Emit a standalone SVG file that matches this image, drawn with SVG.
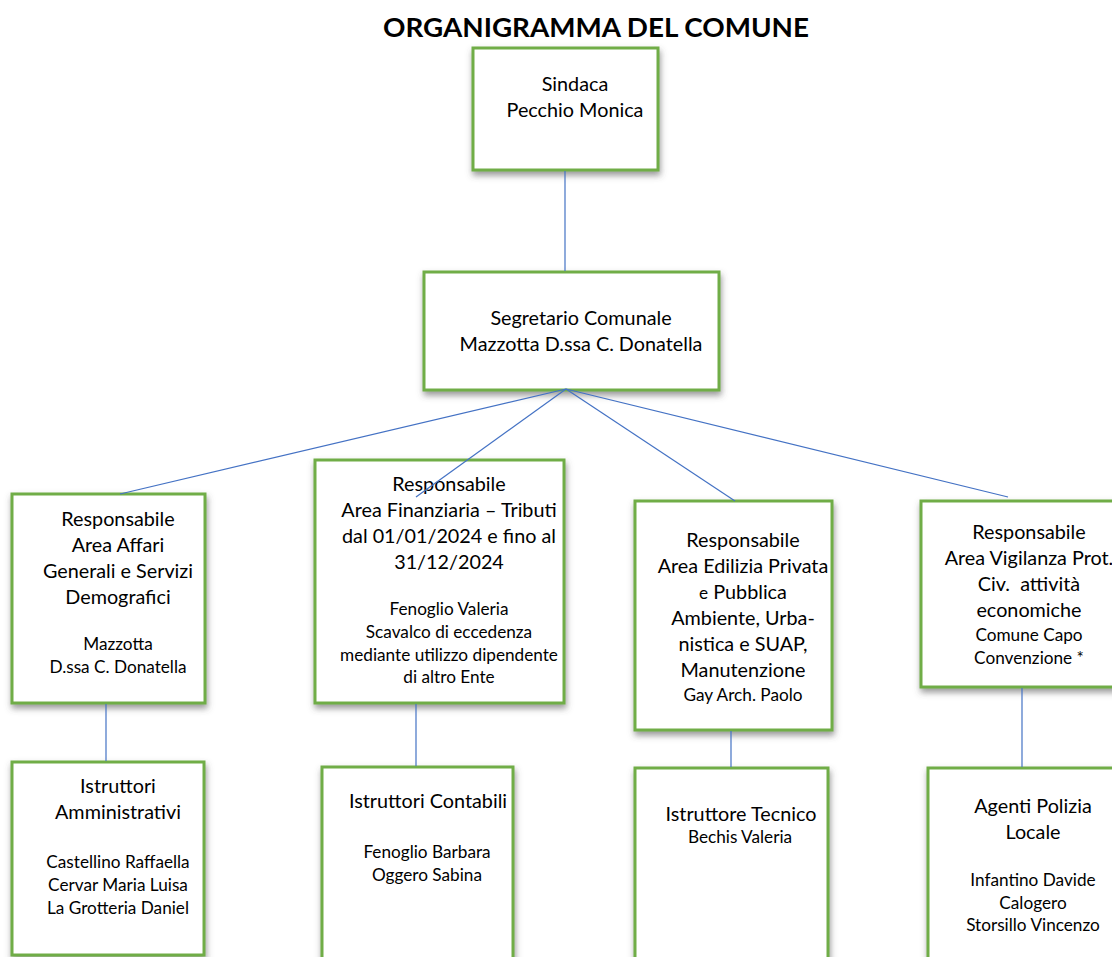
<svg xmlns="http://www.w3.org/2000/svg" width="1112" height="957" viewBox="0 0 1112 957">
<defs>
<filter id="sh" x="-10%" y="-10%" width="125%" height="130%">
<feDropShadow dx="1" dy="4" stdDeviation="3" flood-color="#555" flood-opacity="0.6"/>
</filter>
</defs>
<style>
.box{fill:#fff;stroke:#70AD47;stroke-width:3;filter:url(#sh)}
.t{font-family:Lato,"Liberation Sans",sans-serif;fill:#000;text-anchor:middle}
.b{font-size:19.8px}
.s{font-size:17.2px}
.title{font-family:Lato,"Liberation Sans",sans-serif;font-weight:bold;font-size:27px;text-anchor:middle;fill:#000}
.ln{stroke:#4472C4;stroke-width:1.2;fill:none}
</style>
<rect width="1112" height="957" fill="#fff"/>
<text class="title" x="596" y="37" textLength="426" lengthAdjust="spacingAndGlyphs">ORGANIGRAMMA DEL COMUNE</text>

<g id="sindaca">
<rect class="box" x="473" y="48" width="185" height="122"/>
<text class="t b" x="575" y="91">Sindaca</text>
<text class="t b" x="575" y="117">Pecchio Monica</text>
</g>

<g id="segretario">
<rect class="box" x="424" y="272" width="295" height="118"/>
<text class="t b" x="581" y="325">Segretario Comunale</text>
<text class="t b" x="581" y="351">Mazzotta D.ssa C. Donatella</text>
</g>

<g id="affari">
<rect class="box" x="12" y="494" width="193" height="209"/>
<text class="t b" x="118" y="526">Responsabile</text>
<text class="t b" x="118" y="552">Area Affari</text>
<text class="t b" x="118" y="578">Generali e Servizi</text>
<text class="t b" x="118" y="603.5">Demografici</text>
<text class="t s" x="118" y="649.5">Mazzotta</text>
<text class="t s" x="118" y="672.5">D.ssa C. Donatella</text>
</g>

<g id="finanziaria">
<rect class="box" x="315" y="460" width="249" height="243"/>
<text class="t b" x="449" y="491">Responsabile</text>
<text class="t b" x="449" y="517">Area Finanziaria – Tributi</text>
<text class="t b" x="449" y="543">dal 01/01/2024 e fino al</text>
<text class="t b" x="449" y="569">31/12/2024</text>
<text class="t s" x="449" y="615">Fenoglio Valeria</text>
<text class="t s" x="449" y="638">Scavalco di eccedenza</text>
<text class="t s" x="449" y="661">mediante utilizzo dipendente</text>
<text class="t s" x="449" y="683">di altro Ente</text>
</g>

<g id="edilizia">
<rect class="box" x="635" y="501" width="197" height="229"/>
<text class="t b" x="743" y="547">Responsabile</text>
<text class="t b" x="743" y="573">Area Edilizia Privata</text>
<text class="t b" x="743" y="599"><tspan class="s">e</tspan> Pubblica</text>
<text class="t b" x="743" y="624.5">Ambiente, Urba-</text>
<text class="t b" x="743" y="651">nistica e SUAP,</text>
<text class="t b" x="743" y="677">Manutenzione</text>
<text class="t s" x="743" y="701">Gay Arch. Paolo</text>
</g>

<g id="vigilanza">
<rect class="box" x="921" y="501" width="200" height="186"/>
<text class="t b" x="1029" y="538.5">Responsabile</text>
<text class="t b" x="1029" y="565">Area Vigilanza Prot.</text>
<text class="t b" x="1029" y="591" style="white-space:pre">Civ.  attività</text>
<text class="t b" x="1029" y="617">economiche</text>
<text class="t s" x="1029" y="641">Comune Capo</text>
<text class="t s" x="1029" y="663.5">Convenzione *</text>
</g>

<g id="istr-amm">
<rect class="box" x="12" y="762" width="192" height="193"/>
<text class="t b" x="118" y="793">Istruttori</text>
<text class="t b" x="118" y="819">Amministrativi</text>
<text class="t s" x="118" y="868">Castellino Raffaella</text>
<text class="t s" x="118" y="891">Cervar Maria Luisa</text>
<text class="t s" x="118" y="914">La Grotteria Daniel</text>
</g>

<g id="istr-cont">
<rect class="box" x="322" y="767" width="191" height="210"/>
<text class="t b" x="428" y="808">Istruttori Contabili</text>
<text class="t s" x="427" y="858">Fenoglio Barbara</text>
<text class="t s" x="427" y="881">Oggero Sabina</text>
</g>

<g id="istr-tec">
<rect class="box" x="635" y="768" width="193" height="210"/>
<text class="t b" x="741" y="821">Istruttore Tecnico</text>
<text class="t s" x="740" y="843">Bechis Valeria</text>
</g>

<g id="polizia">
<rect class="box" x="928" y="768" width="200" height="210"/>
<text class="t b" x="1033" y="813">Agenti Polizia</text>
<text class="t b" x="1033" y="839">Locale</text>
<text class="t s" x="1033" y="886">Infantino Davide</text>
<text class="t s" x="1033" y="909">Calogero</text>
<text class="t s" x="1033" y="931">Storsillo Vincenzo</text>
</g>

<g id="connectors">
<line class="ln" x1="565" y1="171" x2="565" y2="271"/>
<line class="ln" x1="566" y1="389" x2="120" y2="494"/>
<line class="ln" x1="566" y1="389" x2="416" y2="497"/>
<line class="ln" x1="566" y1="389" x2="735" y2="501"/>
<line class="ln" x1="566" y1="389" x2="1008" y2="497"/>
<line class="ln" x1="106" y1="704" x2="106" y2="761"/>
<line class="ln" x1="416" y1="704" x2="416" y2="766"/>
<line class="ln" x1="731" y1="731" x2="731" y2="767"/>
<line class="ln" x1="1022" y1="688" x2="1022" y2="767"/>
</g>
</svg>
